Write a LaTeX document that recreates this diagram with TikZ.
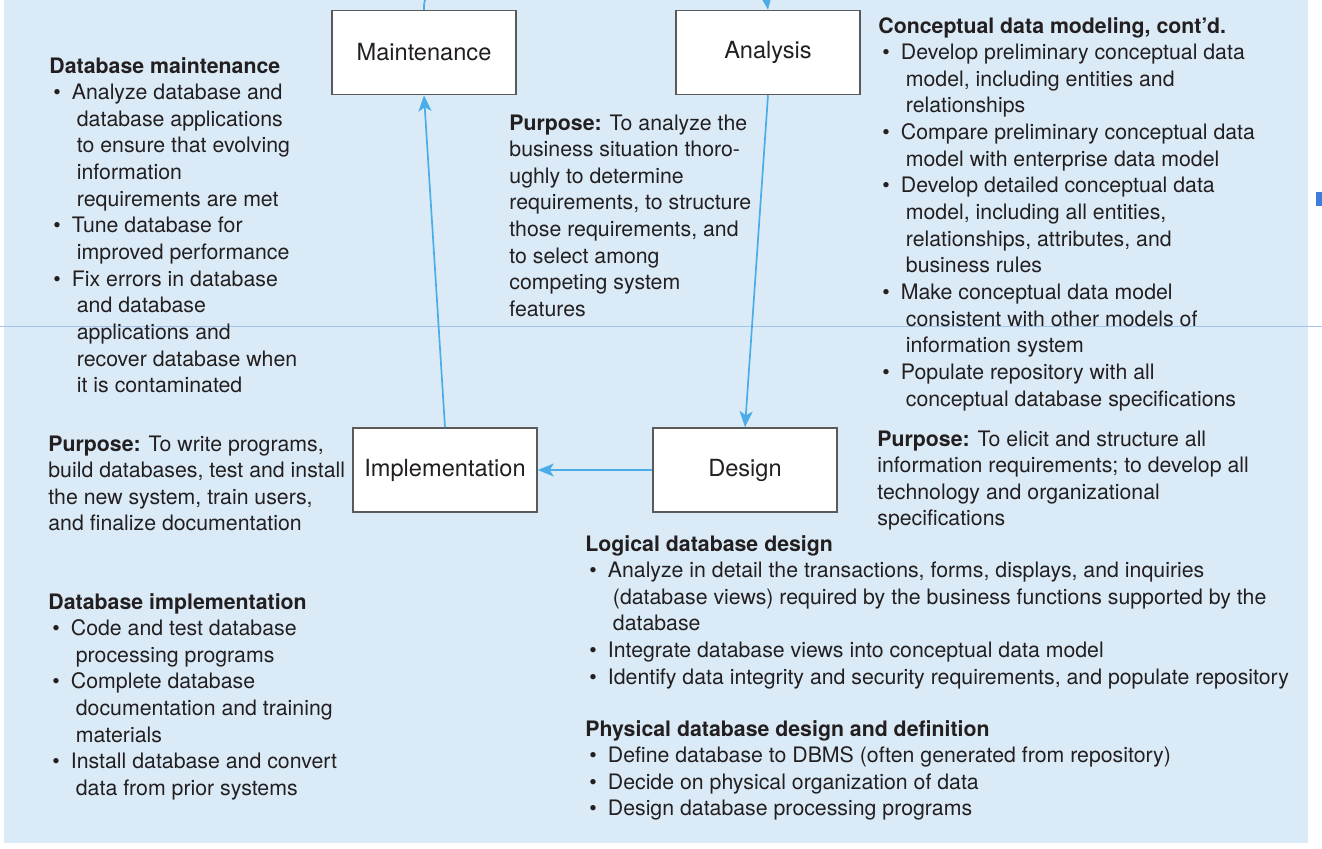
\documentclass[tikz,border=0pt]{standalone}
\usepackage{fontspec}
\setmainfont{TeX Gyre Heros}
\usetikzlibrary{arrows.meta}
\definecolor{bgblue}{HTML}{DAEBF7}
\definecolor{arrowblue}{HTML}{4AADE8}
\definecolor{rulecol}{HTML}{A4C4F0}
\definecolor{sqblue}{HTML}{3D7DDB}
\definecolor{boxgray}{HTML}{5A5A5A}
\definecolor{textgray}{HTML}{231F20}
\newcommand\myb{\makebox[11.25pt][l]{\hspace*{2pt}\textbullet}}
\newcommand\myc{\hspace*{13.75pt}}
\tikzset{
  txt/.style={anchor=base west, inner sep=0pt, text=textgray, font=\fontsize{10.65}{13.33}\selectfont},
  stage/.style={draw=boxgray, fill=white, line width=0.75pt, inner sep=0pt,
    minimum width=92pt, minimum height=42pt, text=textgray, font=\fontsize{11.8}{14}\selectfont},
  flow/.style={draw=arrowblue, line width=0.85pt, -{Stealth[length=8pt,width=6.5pt,inset=2pt]}},
  link/.style={draw=arrowblue, line width=0.85pt}
}
\begin{document}
\begin{tikzpicture}[x=0.5pt,y=-0.5pt]
\useasboundingbox (0,0) rectangle (1322,848);
\fill[bgblue] (4,0) rectangle (1308,843);
\draw[rulecol, line width=0.5pt] (0,326) -- (1322,326);
\fill[sqblue] (1316,192) rectangle (1322,206);

\node[stage] (maint) at (424,52.5) {Maintenance};
\node[stage] (ana) at (768,52.5) {Analysis};
\node[stage] (impl) at (445,470) {Implementation};
\node[stage] (des) at (745,470) {Design};

\draw[flow] (impl.north) -- (maint.south);
\draw[flow] (ana.south) -- (des.north);
\draw[flow] (des.west) -- (impl.east);
\begin{scope}
\clip (0,0) rectangle (1322,848);
\coordinate (offM) at (445,-25);
\coordinate (offA) at (740,-25);
\draw[link] (maint.north) .. controls (424,-2) .. (offM);
\draw[flow] (offA) .. controls (766,-5) .. (ana.north);
\end{scope}

\node[txt] (maintxt) at (49,73) {\begin{tabular}[t]{@{}l@{}}
\textbf{Database maintenance}\\
\myb Analyze database and\\
\myc database applications\\
\myc to ensure that evolving\\
\myc information\\
\myc requirements are met\\
\myb Tune database for\\
\myc improved performance\\
\myb Fix errors in database\\
\myc and database\\
\myc applications and\\
\myc recover database when\\
\myc it is contaminated
\end{tabular}};

\node[txt] (anapurp) at (509,130) {\begin{tabular}[t]{@{}l@{}}
\textbf{Purpose:} To analyze the\\
business situation thoro-\\
ughly to determine\\
requirements, to structure\\
those requirements, and\\
to select among\\
competing system\\
features
\end{tabular}};

\node[txt] (concept) at (878,33) {\begin{tabular}[t]{@{}l@{}}
\textbf{Conceptual data modeling, cont'd.}\\
\myb Develop preliminary conceptual data\\
\myc model, including entities and\\
\myc relationships\\
\myb Compare preliminary conceptual data\\
\myc model with enterprise data model\\
\myb Develop detailed conceptual data\\
\myc model, including all entities,\\
\myc relationships, attributes, and\\
\myc business rules\\
\myb Make conceptual data model\\
\myc consistent with other models of\\
\myc information system\\
\myb Populate repository with all\\
\myc conceptual database specifications
\end{tabular}};

\node[txt] (implpurp) at (48,451) {\begin{tabular}[t]{@{}l@{}}
\textbf{Purpose:} To write programs,\\
build databases, test and install\\
the new system, train users,\\
and finalize documentation
\end{tabular}};

\node[txt] (despurp) at (877,446) {\begin{tabular}[t]{@{}l@{}}
\textbf{Purpose:} To elicit and structure all\\
information requirements; to develop all\\
technology and organizational\\
specifications
\end{tabular}};

\node[txt] (logical) at (585,551) {\begin{tabular}[t]{@{}l@{}}
\textbf{Logical database design}\\
\myb Analyze in detail the transactions, forms, displays, and inquiries\\
\myc (database views) required by the business functions supported by the\\
\myc database\\
\myb Integrate database views into conceptual data model\\
\myb Identify data integrity and security requirements, and populate repository
\end{tabular}};

\node[txt] (physical) at (585,736) {\begin{tabular}[t]{@{}l@{}}
\textbf{Physical database design and definition}\\
\myb Define database to DBMS (often generated from repository)\\
\myb Decide on physical organization of data\\
\myb Design database processing programs
\end{tabular}};

\node[txt] (dbimpl) at (48,609) {\begin{tabular}[t]{@{}l@{}}
\textbf{Database implementation}\\
\myb Code and test database\\
\myc processing programs\\
\myb Complete database\\
\myc documentation and training\\
\myc materials\\
\myb Install database and convert\\
\myc data from prior systems
\end{tabular}};
\end{tikzpicture}
\end{document}
